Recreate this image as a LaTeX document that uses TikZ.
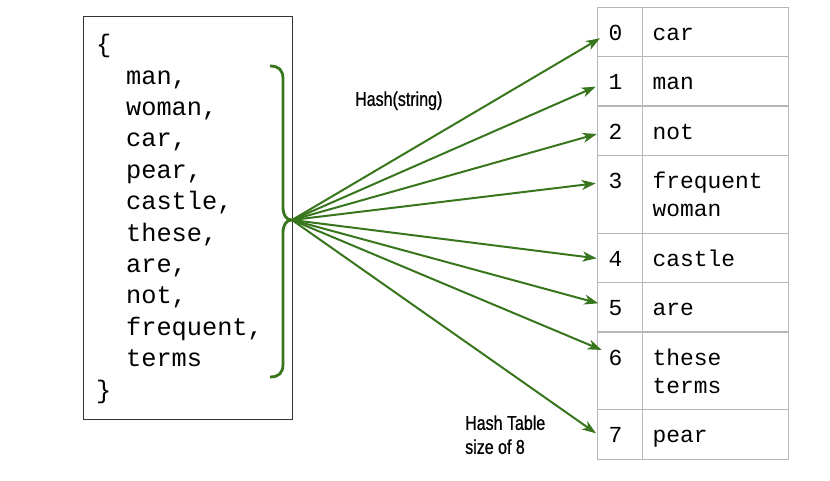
\documentclass[tikz,border=0pt]{standalone}
\usepackage{fontspec}
\newfontfamily\monofont{Liberation Mono}
\newfontfamily\labfont[FakeStretch=0.8,FakeBold=0.8]{Liberation Sans}
\usetikzlibrary{arrows.meta}
\definecolor{dgreen}{HTML}{38761D}
\definecolor{tgray}{HTML}{B7B7B7}
\begin{document}
\begin{tikzpicture}[x=1pt,y=-1pt,
  settext/.style={anchor=base west, inner sep=0pt, font=\monofont\fontsize{25.3}{31}\selectfont},
  celltext/.style={anchor=base west, inner sep=0pt, font=\monofont\fontsize{22.9}{28}\selectfont},
  lab/.style={anchor=west, inner sep=0pt, align=left, font=\labfont\fontsize{20}{24}\selectfont},
  cell/.style={draw=tgray, line width=1.3pt},
  harrow/.style={draw=dgreen, line width=2pt, -{Stealth[length=14pt,width=10pt,inset=4pt]}}]
\useasboundingbox (0,0) rectangle (830,480);
% left set box
\node[draw=black!80, line width=1pt, minimum width=209pt, minimum height=403.3pt, inner sep=0pt, anchor=north west] (setbox) at (83.3,16) {};
\node[settext] (lb) at (96,52.6) {\{};
\node[settext] (s1) at (126,84) {man,};
\node[settext] (s2) at (126,115.4) {woman,};
\node[settext] (s3) at (126,146.8) {car,};
\node[settext] (s4) at (126,178.2) {pear,};
\node[settext] (s5) at (126,209.6) {castle,};
\node[settext] (s6) at (126,241) {these,};
\node[settext] (s7) at (126,272.4) {are,};
\node[settext] (s8) at (126,303.8) {not,};
\node[settext] (s9) at (126,335.2) {frequent,};
\node[settext] (s10) at (126,366.6) {terms};
\node[settext] (rb) at (96,398) {\}};
% brace
\draw[dgreen, line width=2.8pt] (270,66) .. controls (279,66) and (283,70) .. (283,79) -- (283,207)
  .. controls (283,215) and (286,220) .. (292,220)
  .. controls (286,220) and (283,225) .. (283,233) -- (283,364)
  .. controls (283,373) and (279,377) .. (270,377);
\coordinate (src) at (292,220);
% table
\draw[cell] (597.5,7.3) rectangle (788.7,459.3);
\draw[cell] (642.7,7.3) -- (642.7,459.3);
\foreach \y in {56.7,106,155.3,233.3,282.7,332,409.3}{
  \draw[cell] (597.5,\y) -- (788.7,\y);
}
\node[celltext] (n0) at (608.5,40.3) {0};
\node[celltext] (n1) at (608.5,89.7) {1};
\node[celltext] (n2) at (608.5,139) {2};
\node[celltext] (n3) at (608.5,188.3) {3};
\node[celltext] (n4) at (608.5,266.3) {4};
\node[celltext] (n5) at (608.5,315.7) {5};
\node[celltext] (n6) at (608.5,365) {6};
\node[celltext] (n7) at (608.5,442.3) {7};
\node[celltext] (w0) at (652.5,40.3) {car};
\node[celltext] (w1) at (652.5,89.7) {man};
\node[celltext] (w2) at (652.5,139) {not};
\node[celltext] (w3) at (652.5,188.3) {frequent};
\node[celltext] (w3b) at (652.5,216.6) {woman};
\node[celltext] (w4) at (652.5,266.3) {castle};
\node[celltext] (w5) at (652.5,315.7) {are};
\node[celltext] (w6) at (652.5,365) {these};
\node[celltext] (w6b) at (652.5,393.3) {terms};
\node[celltext] (w7) at (652.5,442.3) {pear};
% arrow targets
\coordinate (t0) at (600,38.3);
\coordinate (t1) at (595.7,86.7);
\coordinate (t2) at (596.7,134);
\coordinate (t3) at (595.7,183.3);
\coordinate (t4) at (596.7,258.3);
\coordinate (t5) at (598.3,303.3);
\coordinate (t6) at (601.7,350);
\coordinate (t7) at (596,433.3);
\foreach \t in {t0,t1,t2,t3,t4,t5,t6,t7}{\draw[harrow] (src) -- (\t);}
% labels
\node[lab] (hashlab) at (355,100.7) {Hash(string)};
\node[lab] (tablab) at (465,434.7) {Hash Table\\size of 8};
\end{tikzpicture}
\end{document}
